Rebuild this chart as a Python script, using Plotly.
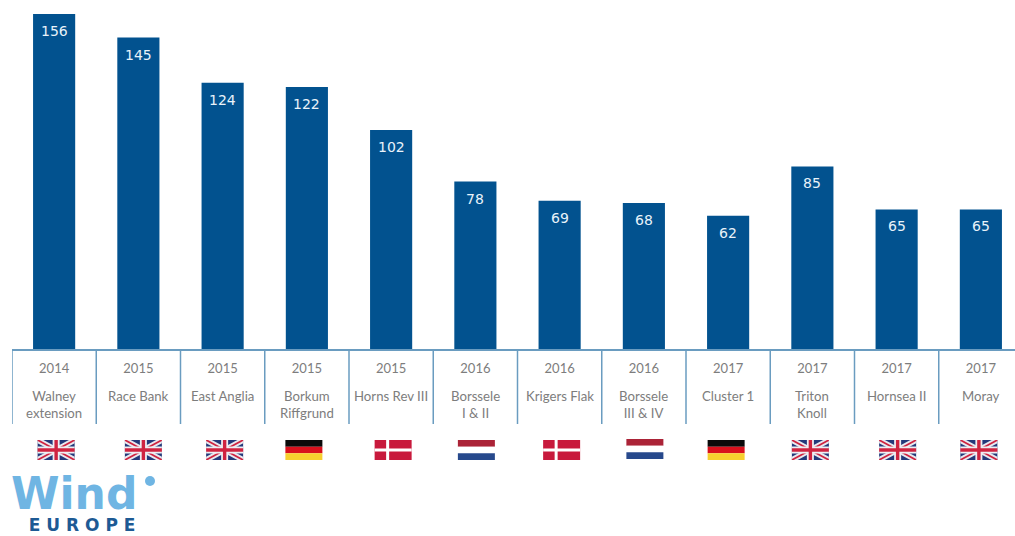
import plotly.graph_objects as go

# Project data
years = ["2014", "2015", "2015", "2015", "2015", "2016", "2016", "2016", "2017", "2017", "2017", "2017"]
projects = ["Walney<br>extension", "Race Bank", "East Anglia", "Borkum<br>Riffgrund", "Horns Rev III",
            "Borssele<br>I & II", "Krigers Flak", "Borssele<br>III & IV", "Cluster 1", "Triton<br>Knoll",
            "Hornsea II", "Moray"]
values = [156, 145, 124, 122, 102, 78, 69, 68, 62, 85, 65, 65]
countries = ["UK", "UK", "UK", "DE", "DK", "NL", "DK", "NL", "DE", "UK", "UK", "UK"]

# Layout constants, in pixels
W, H = 1015, 536
LEFT, BASE = 12, 349
STEP = 84.25
FLAG_NUDGE = [2, 5, 2, -3, 2, 1, 2, 1, -2, -2, 1, -2]
FLAG_LIFT = [0, 0, 0, 0, 0, 0, 0, 1, 0, 0, 0, 0]
FLAG_W, FLAG_H = 37, 20
FLAG_CY = 450

BAR = "#02528f"
RULE = "#6a9cc0"
GREY = "#7d7d7d"
LOGO_LIGHT = "#6fb5e3"
LOGO_DARK = "#1d5a94"


def py(pixel_y):
    """Pixel row in the page to a paper y fraction of the plot area."""
    return (BASE - pixel_y) / BASE


def px(pixel_x):
    return (pixel_x - LEFT) / (W - LEFT)


shapes = []


def flag_shape(i, dx0, dy0, dx1, dy1, color):
    shapes.append(dict(type="rect", xref="x", yref="paper", xsizemode="pixel", ysizemode="pixel",
                       xanchor=i, yanchor=py(FLAG_CY - FLAG_LIFT[i]), x0=dx0 + FLAG_NUDGE[i], x1=dx1 + FLAG_NUDGE[i],
                       y0=dy0, y1=dy1, fillcolor=color, line_width=0, layer="above"))


def flag_poly(i, pts, color):
    n = FLAG_NUDGE[i]
    path = "M" + " L".join(f"{x + n},{y}" for x, y in pts) + " Z"
    shapes.append(dict(type="path", xref="x", yref="paper", xsizemode="pixel", ysizemode="pixel",
                       xanchor=i, yanchor=py(FLAG_CY - FLAG_LIFT[i]), path=path, fillcolor=color, line_width=0,
                       layer="above"))


def draw_flag(i, code):
    w, h = FLAG_W / 2, FLAG_H / 2
    if code == "DE":
        for k, c in enumerate(["#0a0a0a", "#d8101c", "#f7cf2e"]):
            flag_shape(i, -w, h - (k + 1) * FLAG_H / 3, w, h - k * FLAG_H / 3, c)
    elif code == "NL":
        for k, c in enumerate(["#ab2337", "#ffffff", "#27498c"]):
            flag_shape(i, -w, h - (k + 1) * FLAG_H / 3, w, h - k * FLAG_H / 3, c)
    elif code == "DK":
        flag_shape(i, -w, -h, w, h, "#c8193c")
        flag_shape(i, -w + 11.5, -h, -w + 14.5, h, "#ffffff")
        flag_shape(i, -w, -1.5, w, 1.5, "#ffffff")
    else:
        flag_shape(i, -w, -h, w, h, "#23397a")
        for sign in (1, -1):
            for d, c in ((3.2, "#e9e9ef"), (1.0, "#cf2340")):
                flag_poly(i, [(-w, sign * (-h + d)), (-w, sign * -h), (-w + d * 1.8, sign * -h),
                              (w, sign * (h - d)), (w, sign * h), (w - d * 1.8, sign * h)], c)
        flag_shape(i, -3.5, -h, 3.5, h, "#eeeef2")
        flag_shape(i, -w, -3.5, w, 3.5, "#eeeef2")
        flag_shape(i, -1.7, -h, 1.7, h, "#cf2340")
        flag_shape(i, -w, -1.7, w, 1.7, "#cf2340")


# Column dividers below the baseline
for i in range(len(values)):
    shapes.append(dict(type="line", xref="x", yref="paper", x0=i - 0.5, x1=i - 0.5,
                       y0=py(349), y1=py(424), line=dict(color=RULE, width=1.5)))
    draw_flag(i, countries[i])

# WindEurope logo dot
shapes.append(dict(type="circle", xref="paper", yref="paper", x0=px(145), x1=px(155),
                   y0=py(486), y1=py(476), fillcolor=LOGO_LIGHT, line_width=0))

annotations = []
for i, (v, name) in enumerate(zip(values, projects)):
    annotations.append(dict(x=i, y=v, xref="x", yref="y", text=str(v), showarrow=False, yshift=-17,
                            yanchor="middle", font=dict(family="DejaVu Sans", size=14, color="#e9f3fa")))
    annotations.append(dict(x=i, y=py(386), xref="x", yref="paper", text=name, showarrow=False,
                            yanchor="top", xanchor="center", align="center",
                            font=dict(family="Lato", size=13.2, color=GREY)))

# Logo wordmark, two lines in a single text element
annotations.append(dict(
    x=px(10), y=py(536), xref="paper", yref="paper", showarrow=False,
    xanchor="left", yanchor="bottom", align="left", borderpad=0,
    text=(f'<span style="font-size:44px;color:{LOGO_LIGHT}"><b>Wind</b></span><br>'
          '<b>&nbsp;&nbsp;&nbsp;E U R O P E</b>'),
    font=dict(family="DejaVu Sans", size=17, color=LOGO_DARK),
))

fig = go.Figure(go.Bar(x=list(range(len(values))), y=values, width=0.5, marker=dict(color=BAR, line_width=0),
                       hoverinfo="skip"))
fig.update_layout(
    width=W, height=H, margin=dict(l=LEFT, r=0, t=0, b=H - BASE, pad=0),
    paper_bgcolor="white", plot_bgcolor="white", showlegend=False,
    shapes=shapes, annotations=annotations,
    xaxis=dict(range=[-0.5, (W - LEFT) / STEP - 0.5], tickvals=list(range(len(values))), ticktext=years,
               showgrid=False, zeroline=False, showline=True, linecolor=RULE, linewidth=1.5,
               ticks="", ticklabelstandoff=7, tickfont=dict(family="Lato", size=13, color=GREY)),
    yaxis=dict(range=[0, BASE / (335 / 156)], visible=False, showgrid=False, zeroline=False),
)
fig.write_html("out.html", config=dict(displayModeBar=False))
